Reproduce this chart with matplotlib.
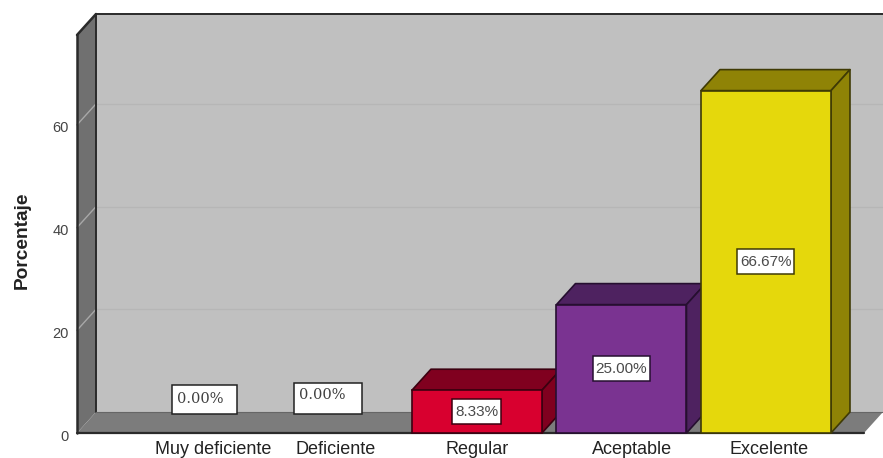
import matplotlib
matplotlib.use("Agg")
import matplotlib.pyplot as plt
from matplotlib.patches import Polygon, Rectangle
from matplotlib.transforms import ScaledTranslation

plt.rcParams['font.family'] = ['Liberation Sans', 'DejaVu Sans']

categories = ["Muy deficiente", "Deficiente", "Regular", "Aceptable", "Excelente"]
percentages = [0.00, 0.00, 8.33, 25.00, 66.67]
y_ticks = [0, 20, 40, 60]

front_colors = ["#d8002f", "#d8002f", "#d8002f", "#7a3391", "#e5d80c"]
shade_colors = ["#80001f", "#80001f", "#80001f", "#4e2260", "#8f8306"]
edge_colors = ["#3c0010", "#3c0010", "#3c0010", "#260f30", "#3f3a05"]

# sideways nudge of each category name, in category units
label_shift = [0.173, 0.02, 0.0, 0.07, 0.02]

W, H = 883, 458
X_MIN, X_MAX = -0.768, 4.81
Y_MAX = 77.5
DX, DY = 0.1315, 4.09  # depth of the 3D box
BAR_W = 0.9
X_PX, Y_PX = 144.5, 5.133  # pixels per category / per percent


def poly(ax, pts, fc, ec="none", lw=0, z=1):
    ax.add_patch(Polygon(pts, closed=True, fc=fc, ec=ec, lw=lw, zorder=z, clip_on=False, joinstyle="round"))


def value_box(ax, left, bottom, w_px, h_px, ec):
    w, h = w_px / X_PX, h_px / Y_PX
    ax.add_patch(Rectangle((left, bottom), w, h, fc="white", ec=ec, lw=1.1, zorder=11, clip_on=False))
    return left + w / 2, bottom + h / 2


fig = plt.figure(figsize=(W / 100, H / 100), dpi=100, facecolor="white")
ax = fig.add_axes([77 / W, (H - 433) / H, (W - 77) / W, (433 - 35) / H])
ax.set_xlim(X_MIN, X_MAX)
ax.set_ylim(0, Y_MAX)
for s in ax.spines.values():
    s.set_visible(False)
ax.patch.set_visible(False)

# back wall, left wall, floor
poly(ax, [(X_MIN + DX, DY), (X_MAX + DX, DY), (X_MAX + DX, Y_MAX + DY), (X_MIN + DX, Y_MAX + DY)], "#c0c0c0")
poly(ax, [(X_MIN, 0), (X_MIN + DX, DY), (X_MIN + DX, Y_MAX + DY), (X_MIN, Y_MAX)], "#707070")
floor_end = X_MAX - DX
poly(ax, [(X_MIN, 0), (floor_end, 0), (floor_end + DX, DY), (X_MIN + DX, DY)], "#7c7c7c")

# grid lines run across the back wall and down the left wall
for t in y_ticks[1:]:
    ax.plot([X_MIN + DX, X_MAX + DX], [t + DY, t + DY], color="#b6b6b6", lw=1, zorder=2, clip_on=False)
    ax.plot([X_MIN, X_MIN + DX], [t, t + DY], color="#a8a8a8", lw=1, zorder=2, clip_on=False)

# box outline
line = dict(color="#2a2a2a", zorder=3, clip_on=False, solid_capstyle="round")
ax.plot([X_MIN, X_MIN], [0, Y_MAX], lw=1.8, **line)
ax.plot([X_MIN, X_MIN + DX], [Y_MAX, Y_MAX + DY], lw=1.8, **line)
ax.plot([X_MIN + DX, X_MIN + DX], [DY, Y_MAX + DY], lw=1.4, **line)
ax.plot([X_MIN + DX, X_MAX + DX], [Y_MAX + DY, Y_MAX + DY], lw=1.4, **line)
ax.plot([X_MIN + DX, floor_end + DX], [DY, DY], color="#666666", lw=0.8, zorder=3, clip_on=False)
ax.plot([X_MIN, floor_end], [0, 0], lw=1.6, **line)

for i, v in enumerate(percentages):
    if v <= 0:
        continue
    l, r = i - BAR_W / 2, i + BAR_W / 2
    ec = edge_colors[i]
    poly(ax, [(l, v), (r, v), (r + DX, v + DY), (l + DX, v + DY)], shade_colors[i], ec, 1.2, 4 + i)
    poly(ax, [(r, 0), (r + DX, DY), (r + DX, v + DY), (r, v)], shade_colors[i], ec, 1.2, 4 + i)
    ax.bar(i, v, width=BAR_W, color=front_colors[i], edgecolor=ec, linewidth=1.2, zorder=4 + i, clip_on=False)
    w_px = 49 if v < 10 else 57
    cx, cy = value_box(ax, i - w_px / 2 / X_PX, v / 2 - 12.5 / Y_PX, w_px, 25, ec)
    ax.text(cx, cy, "%.2f%%" % v, ha="center", va="center", fontsize=11, color="#4a4a4a", zorder=12)

# the two empty categories only carry a label box, set off to one side
cx, cy = value_box(ax, -0.111, 3.7, 65, 29, "#222222")
ax.text(-0.111 + 5 / X_PX, cy, "%.2f%%" % percentages[0], ha="left", va="center", fontsize=10.5,
        family="DejaVu Serif", color="#404040", zorder=12)
cx, cy = value_box(ax, -0.263 + 1, 3.7, 68, 31, "#222222")
ax.text(-0.263 + 1 + 5 / X_PX, cy + 0.6, "%.2f%%" % percentages[1], ha="left", va="center", fontsize=10.5,
        family="DejaVu Serif", color="#404040", zorder=12)

ax.set_xticks([i + s for i, s in enumerate(label_shift)])
ax.set_xticklabels(categories, fontsize=13, color="#222222")
ax.set_yticks(y_ticks)
ax.tick_params(axis="both", length=0)
ax.tick_params(axis="x", pad=5.5)
ax.tick_params(axis="y", pad=6, labelsize=10.5, labelcolor="#444444")
for lab in ax.get_yticklabels():
    lab.set_transform(lab.get_transform() + ScaledTranslation(0, -1.5 / 72, fig.dpi_scale_trans))

fig.text(22 / W, (H - 240) / H, "Porcentaje", rotation=90, ha="center", va="center", fontsize=13.8,
         fontweight="bold", color="#222222")

fig.savefig("out.png", dpi=100)
